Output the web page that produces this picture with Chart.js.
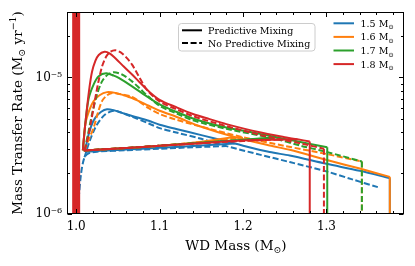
<!DOCTYPE html>
<html>
<head>
<meta charset="utf-8">
<script src="https://cdn.jsdelivr.net/npm/chart.js@4.4.0/dist/chart.umd.min.js"></script>
<style>
  html, body { margin: 0; padding: 0; background: #fff; }
</style>
</head>
<body>
<canvas id="chart" width="415" height="266"></canvas>
<script>
// ── Data ──────────────────────────────────────────────────────────────────
const masses      = ['1.5', '1.6', '1.7', '1.8'];
const massColors  = ['#1f77b4', '#ff7f0e', '#2ca02c', '#d62728'];
const mixingNames = ['Predictive Mixing', 'No Predictive Mixing'];

const xTickValues = [1.0, 1.1, 1.2, 1.3];
const xTickLabels = ['1.0', '1.1', '1.2', '1.3'];
const yTickValues = [1e-6, 1e-5];
const yTickLabels = ['10⁻⁶', '10⁻⁵'];

const RATE_UNIT = 1e-6;   // rates below are in units of 1e-6 Msun/yr

// [WD mass, rate]  — lower (slow) branch and upper (hump) branch of each track
const m15PredLow = [[1.012,2.85],[1.03,2.9],[1.06,2.96],[1.1,3.05],[1.15,3.17],[1.19,3.28]];
const m15PredUp  = [[1.011,2.85],[1.013,3.44],[1.018,4.4],[1.023,5.08],[1.03,5.6],[1.037,5.84],[1.045,5.75],
                    [1.055,5.5],[1.067,5.22],[1.087,4.81],[1.1,4.5],[1.12,4.19],[1.15,3.78],[1.19,3.28],
                    [1.232,2.84],[1.256,2.68],[1.3,2.33],[1.34,2.07],[1.376,1.83]];
const m15NoPredLow = [[1.003,1.3],[1.006,2.0],[1.01,2.6],[1.015,2.78],[1.025,2.86],[1.06,2.93],[1.1,3.0],
                      [1.14,3.08],[1.18,3.14]];
const m15NoPredUp  = [[1.01,2.6],[1.016,3.4],[1.023,4.3],[1.029,4.9],[1.035,5.37],[1.041,5.62],[1.047,5.7],
                      [1.055,5.5],[1.067,5.15],[1.087,4.6],[1.1,4.25],[1.12,3.95],[1.15,3.55],[1.18,3.14],
                      [1.22,2.72],[1.256,2.4],[1.3,2.05],[1.33,1.8],[1.362,1.57]];

const m16PredLow = [[1.009,2.92],[1.03,2.97],[1.06,3.04],[1.1,3.16],[1.15,3.38],[1.19,3.66]];
const m16PredUp  = [[1.008,2.92],[1.011,4.55],[1.016,5.8],[1.021,6.7],[1.028,7.4],[1.037,7.8],[1.047,7.7],
                    [1.057,7.4],[1.067,7.05],[1.087,6.2],[1.1,5.7],[1.12,5.15],[1.15,4.35],[1.19,3.66],
                    [1.232,3.17],[1.256,2.95],[1.304,2.45],[1.34,2.15],[1.376,1.87]];
const m16NoPredLow = [[1.01,2.92],[1.03,2.97],[1.06,3.04],[1.1,3.16],[1.15,3.36],[1.2,3.62]];
const m16NoPredUp  = [[1.01,2.92],[1.015,3.5],[1.021,4.3],[1.026,5.5],[1.031,6.7],[1.037,7.4],[1.043,7.7],
                      [1.05,7.6],[1.067,7.2],[1.087,5.95],[1.1,5.4],[1.12,4.9],[1.16,4.2],[1.2,3.65],
                      [1.25,3.15],[1.3,2.75],[1.3425,2.42]];

const m17PredLow = [[1.009,2.92],[1.03,2.97],[1.06,3.04],[1.1,3.16],[1.15,3.32],[1.2,3.5],[1.24,3.65]];
const m17PredUp  = [[1.008,2.92],[1.011,4.6],[1.015,7.0],[1.021,8.9],[1.027,10.2],[1.036,10.7],[1.045,10.3],
                    [1.051,9.9],[1.067,8.6],[1.087,7.1],[1.1,6.35],[1.12,5.6],[1.14,5.0],[1.16,4.6],
                    [1.18,4.3],[1.22,3.86],[1.24,3.65],[1.26,3.45],[1.301,3.08]];
const m17NoPredLow = [[1.01,2.92],[1.03,2.97],[1.06,3.04],[1.1,3.16],[1.15,3.32],[1.2,3.48],[1.235,3.6]];
const m17NoPredUp  = [[1.01,2.92],[1.014,3.8],[1.019,5.37],[1.025,7.5],[1.031,9.35],[1.038,10.5],[1.045,10.9],
                      [1.055,10.5],[1.067,9.35],[1.077,8.2],[1.087,7.2],[1.1,6.2],[1.12,5.45],[1.14,4.85],
                      [1.18,4.2],[1.235,3.6],[1.27,3.15],[1.3,2.85],[1.3425,2.42]];

const m18PredLow = [[1.009,2.92],[1.03,2.97],[1.06,3.04],[1.1,3.16],[1.15,3.3],[1.2,3.45],[1.24,3.5],[1.265,3.52]];
const m18PredUp  = [[1.008,2.92],[1.01,4.0],[1.013,6.0],[1.016,8.5],[1.019,11.0],[1.023,13.2],[1.027,14.6],
                    [1.034,15.4],[1.04,15.0],[1.047,13.8],[1.057,12.0],[1.067,10.5],[1.077,9.1],[1.087,7.9],
                    [1.1,6.85],[1.12,6.05],[1.14,5.4],[1.16,4.95],[1.18,4.55],[1.22,3.96],[1.25,3.65],
                    [1.265,3.52],[1.28,3.4]];
const m18NoPredLow = [[1.01,2.92],[1.03,2.97],[1.06,3.04],[1.1,3.16],[1.15,3.3],[1.2,3.42],[1.245,3.52]];
const m18NoPredUp  = [[1.01,2.92],[1.014,3.6],[1.018,4.8],[1.023,7.1],[1.027,9.5],[1.031,12.0],[1.036,14.2],
                      [1.041,15.4],[1.047,15.8],[1.053,15.3],[1.06,14.0],[1.067,12.4],[1.075,10.2],[1.083,8.4],
                      [1.093,7.2],[1.103,6.5],[1.12,5.85],[1.14,5.2],[1.18,4.4],[1.22,3.8],[1.245,3.52],
                      [1.27,3.28],[1.297,3.0]];

// start-up burst at M_WD = 1.0 (runs off both ends of the axis)
const spikeMass = [1.0, 1.0];
const spikeRate = [0.01, 1000];

const DROP_TO = 0.5;  // end-of-track drop, below the axis

// ── Settings ──────────────────────────────────────────────────────────────
const X_MIN = 0.989, X_MAX = 1.393;
const Y_MIN = 1e-6,  Y_MAX = 3e-5;
const FONT  = '"DejaVu Serif", "Liberation Serif", serif';
const DASH  = [6, 2.6];

const tracks = [
  { mass: 0, dashed: false, low: m15PredLow,   up: m15PredUp,   drop: true  },
  { mass: 0, dashed: true,  low: m15NoPredLow, up: m15NoPredUp, drop: false },
  { mass: 1, dashed: false, low: m16PredLow,   up: m16PredUp,   drop: true  },
  { mass: 1, dashed: true,  low: m16NoPredLow, up: m16NoPredUp, drop: true  },
  { mass: 2, dashed: false, low: m17PredLow,   up: m17PredUp,   drop: true  },
  { mass: 2, dashed: true,  low: m17NoPredLow, up: m17NoPredUp, drop: true  },
  { mass: 3, dashed: false, low: m18PredLow,   up: m18PredUp,   drop: true  },
  { mass: 3, dashed: true,  low: m18NoPredLow, up: m18NoPredUp, drop: true  },
];

function toPoints(pairs) {
  return pairs.map(([m, r]) => ({ x: m, y: r * RATE_UNIT }));
}

// ── Datasets, in paint order (first = bottom) ─────────────────────────────
const paint = [];
tracks.forEach(t => {
  const base = {
    borderColor: massColors[t.mass], borderWidth: 2,
    borderDash: t.dashed ? DASH : [], pointRadius: 0, tension: 0.3, fill: false,
  };
  paint.push({ ...base, data: toPoints(t.low) });
  paint.push({ ...base, data: toPoints(t.up) });
  if (t.drop) {
    const [m, r] = t.up[t.up.length - 1];
    paint.push({ ...base, tension: 0, data: toPoints([[m, r], [m, DROP_TO]]) });
  }
});
paint.push({
  borderColor: massColors[3], borderWidth: 8, pointRadius: 0, tension: 0,
  data: spikeMass.map((m, i) => ({ x: m, y: spikeRate[i] * RATE_UNIT })),
});
paint.forEach((d, i) => { d.order = paint.length - i; });

// ── Text helpers ──────────────────────────────────────────────────────────
// parts: [text, kind] with kind '' | 'sub' | 'sup'
function richText(ctx, parts, x, y, size, align) {
  const fontFor = k => `${k ? size * 0.7 : size}px ${FONT}`;
  let w = 0;
  parts.forEach(([s, k]) => { ctx.font = fontFor(k); w += ctx.measureText(s).width; });
  let cx = align === 'center' ? x - w / 2 : x;
  ctx.textAlign = 'left';
  ctx.textBaseline = 'alphabetic';
  parts.forEach(([s, k]) => {
    ctx.font = fontFor(k);
    const dy = k === 'sub' ? size * 0.28 : k === 'sup' ? -size * 0.42 : 0;
    ctx.fillText(s, cx, y + dy);
    cx += ctx.measureText(s).width;
  });
}

function line(ctx, x1, y1, x2, y2) {
  ctx.beginPath(); ctx.moveTo(x1, y1); ctx.lineTo(x2, y2); ctx.stroke();
}

// ── Frame, inward ticks, labels and legends ───────────────────────────────
const decorPlugin = {
  id: 'decor',
  afterDraw(chart) {
    const { ctx, chartArea: a, scales: { x, y } } = chart;
    ctx.save();
    ctx.strokeStyle = '#000';
    ctx.fillStyle = '#000';
    ctx.lineWidth = 1;
    ctx.setLineDash([]);

    const L = Math.round(a.left) + 0.5, R = Math.round(a.right) - 0.5;
    const T = Math.round(a.top) + 0.5,  B = Math.round(a.bottom) - 0.5;
    ctx.strokeRect(L, T, R - L, B - T);

    const MAJOR = 4.5, MINOR = 2.5;
    xTickValues.forEach(v => {
      const p = Math.round(x.getPixelForValue(v)) + 0.5;
      line(ctx, p, B, p, B - MAJOR); line(ctx, p, T, p, T + MAJOR);
    });
    for (let k = Math.ceil(X_MIN / 0.02); k <= Math.floor(X_MAX / 0.02); k++) {
      if (k % 5 === 0) continue;
      const p = Math.round(x.getPixelForValue(k * 0.02)) + 0.5;
      line(ctx, p, B, p, B - MINOR); line(ctx, p, T, p, T + MINOR);
    }
    yTickValues.forEach(v => {
      const p = Math.round(y.getPixelForValue(v)) + 0.5;
      line(ctx, L, p, L + MAJOR, p); line(ctx, R, p, R - MAJOR, p);
    });
    yTickValues.forEach(d => {
      for (let m = 2; m <= 9; m++) {
        const v = m * d;
        if (v >= Y_MAX * 0.999) break;
        const p = Math.round(y.getPixelForValue(v)) + 0.5;
        line(ctx, L, p, L + MINOR, p); line(ctx, R, p, R - MINOR, p);
      }
    });

    // axis titles
    richText(ctx, [['WD Mass (M', ''], ['⊙', 'sub'], [')', '']], 236, 249.5, 13.5, 'center');
    ctx.save();
    ctx.translate(21.5, 113);
    ctx.rotate(-Math.PI / 2);
    richText(ctx, [['Mass Transfer Rate (M', ''], ['⊙', 'sub'], [' yr', ''], ['−1', 'sup'], [')', '']],
             0, 0, 13.5, 'center');
    ctx.restore();

    // legend: mixing line styles
    ctx.beginPath();
    ctx.roundRect(178.5, 23.5, 136.5, 27.5, 3);
    ctx.fillStyle = 'rgba(255,255,255,0.8)';
    ctx.fill();
    ctx.strokeStyle = '#cccccc';
    ctx.stroke();
    ctx.strokeStyle = '#000';
    ctx.fillStyle = '#000';
    ctx.lineWidth = 2;
    mixingNames.forEach((name, i) => {
      const ly = 30.3 + i * 12.7;
      ctx.setLineDash(i ? DASH : []);
      line(ctx, 182, ly, 202, ly);
      ctx.setLineDash([]);
      richText(ctx, [[name, '']], 208, ly + 3.6, 9.5, 'left');
    });

    // legend: WD masses
    masses.forEach((m, i) => {
      const ly = 23.3 + i * 13.6;
      ctx.strokeStyle = massColors[i];
      line(ctx, 333.5, ly, 354, ly);
      richText(ctx, [[m + ' M', ''], ['⊙', 'sub']], 360.5, ly + 3.4, 9.5, 'left');
    });
    ctx.restore();
  },
};

// ── Chart ─────────────────────────────────────────────────────────────────
new Chart(document.getElementById('chart'), {
  type: 'line',
  data: { datasets: paint },
  options: {
    responsive: false,
    animation: false,
    layout: { padding: { top: 11, right: 11, left: 0, bottom: 0 } },
    plugins: { legend: { display: false }, tooltip: { enabled: false } },
    scales: {
      x: {
        type: 'linear', min: X_MIN, max: X_MAX,
        grid: { display: false, drawTicks: false }, border: { display: false },
        ticks: {
          color: '#000', font: { family: FONT, size: 12 }, padding: 6,
          maxRotation: 0, autoSkip: false, callback: (v, i) => xTickLabels[i],
        },
        afterBuildTicks: s => { s.ticks = xTickValues.map(v => ({ value: v })); },
        afterFit: s => { s.height = 52; },
      },
      y: {
        type: 'logarithmic', min: Y_MIN, max: Y_MAX,
        grid: { display: false, drawTicks: false }, border: { display: false },
        ticks: {
          color: '#000', font: { family: FONT, size: 12 }, padding: 5,
          autoSkip: false, callback: (v, i) => yTickLabels[i],
        },
        afterBuildTicks: s => { s.ticks = yTickValues.map(v => ({ value: v })); },
        afterFit: s => { s.width = 67; },
      },
    },
  },
  plugins: [decorPlugin],
});
</script>
</body>
</html>
